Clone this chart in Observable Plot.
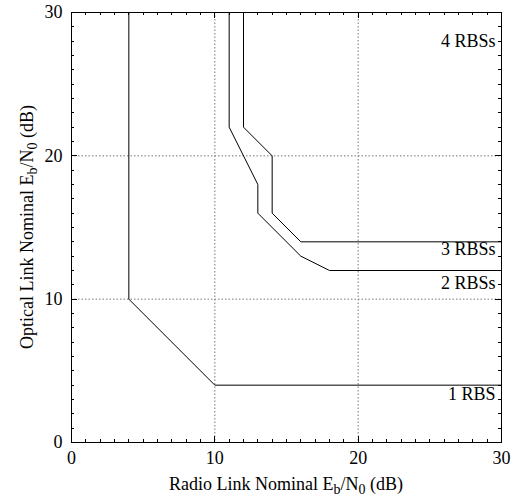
<!DOCTYPE html>
<html><head><meta charset="utf-8">
<script src="https://cdn.jsdelivr.net/npm/d3@7"></script>
<script src="https://cdn.jsdelivr.net/npm/@observablehq/plot@0.6"></script>
<style>body{margin:0;background:#fff} svg{display:block} svg text{font-family:"Liberation Serif","DejaVu Serif",serif !important}</style>
</head><body><div id="chart"></div>
<script>
// Curves (Radio Eb/N0 dB vs Optical Eb/N0 dB)
const rbs1X = [4, 4, 10, 30];
const rbs1Y = [30, 10, 4, 4];
const rbs2X = [11, 11, 13, 13, 16, 18, 30];
const rbs2Y = [30, 22, 18, 16, 13, 12, 12];
const rbs3X = [12, 12, 14, 14, 16, 30];
const rbs3Y = [30, 22, 20, 16, 14, 14];
const curveNames = ["1 RBS", "2 RBSs", "3 RBSs"];
// Region labels
const labelNames = ["4 RBSs", "3 RBSs", "2 RBSs", "1 RBS"];
const labelY = [28, 13.5, 11.1, 3.4];
// Ticks
const majorTicks = [0, 10, 20, 30];
const minorTicks = [1,2,3,4,5,6,7,8,9,11,12,13,14,15,16,17,18,19,21,22,23,24,25,26,27,28,29];
const gridTicks = [10, 20];

const curves = [
  {name: curveNames[0], xs: rbs1X, ys: rbs1Y},
  {name: curveNames[1], xs: rbs2X, ys: rbs2Y},
  {name: curveNames[2], xs: rbs3X, ys: rbs3Y}
].flatMap(c => c.xs.map((x, i) => ({name: c.name, x, y: c.ys[i]})));
const labels = labelNames.map((t, i) => ({t, y: labelY[i]}));

const font = '"Liberation Serif", "DejaVu Serif", serif';
const W = 512, H = 498;
const mL = 71, mR = 11, mT = 12, mB = 56;
const fw = W - mL - mR, fh = H - mT - mB;

const chart = Plot.plot({
  width: W, height: H,
  marginLeft: mL, marginRight: mR, marginTop: mT, marginBottom: mB,
  style: {fontFamily: font, fontSize: "18px", color: "#000", background: "#fff"},
  x: {domain: [0, 30], axis: null},
  y: {domain: [0, 30], axis: null},
  marks: [
    Plot.gridX(gridTicks, {stroke: "#777", strokeOpacity: 1, strokeDasharray: "1.5,2"}),
    Plot.gridY(gridTicks, {stroke: "#777", strokeOpacity: 1, strokeDasharray: "1.5,2"}),
    Plot.axisX(majorTicks, {anchor: "bottom", tickSize: 0, tickPadding: 9, label: null, fontSize: 18}),
    Plot.axisY(majorTicks, {anchor: "left", tickSize: 0, tickPadding: 9, label: null, fontSize: 18}),
    Plot.frame({stroke: "#000", strokeWidth: 1}),
    Plot.line(curves, {x: "x", y: "y", z: "name", stroke: "#000", strokeWidth: 1}),
    Plot.text(labels, {text: "t", y: "y", frameAnchor: "right", dx: -6, textAnchor: "end", fontSize: 18, fill: "#000"})
  ]
});
document.getElementById("chart").appendChild(chart);

// inward ticks on all four sides, positioned through Plot's own scales
const svg = d3.select(chart);
const sx = chart.scale("x"), sy = chart.scale("y");
const x0 = sx.apply(0), x1 = sx.apply(30), y0 = sy.apply(0), y1 = sy.apply(30);
const tg = svg.append("g").attr("stroke", "#000").attr("stroke-width", 1).attr("fill", "none");
function drawTicks(values, len) {
  for (const v of values) {
    const px = Math.round(sx.apply(v)) + 0.5, py = Math.round(sy.apply(v)) + 0.5;
    tg.append("line").attr("x1", px).attr("x2", px).attr("y1", y0).attr("y2", y0 - len);
    tg.append("line").attr("x1", px).attr("x2", px).attr("y1", y1).attr("y2", y1 + len);
    tg.append("line").attr("y1", py).attr("y2", py).attr("x1", x0).attr("x2", x0 + len);
    tg.append("line").attr("y1", py).attr("y2", py).attr("x1", x1).attr("x2", x1 - len);
  }
}
drawTicks(minorTicks, 3);
drawTicks(majorTicks, 6);

// Axis titles with subscripts
const cx = mL + fw / 2;
const cy = mT + fh / 2;
function title(g, parts) {
  const t = g.append("text").attr("text-anchor", "middle")
    .attr("font-family", font).attr("font-size", 18).attr("fill", "#000");
  for (const [s, sub] of parts) {
    const ts = t.append("tspan").text(s);
    if (sub) ts.attr("baseline-shift", "-25%").attr("font-size", 14);
  }
  return t;
}
title(svg.append("g").attr("transform", `translate(${cx},${H - 8})`),
  [["Radio Link Nominal E"], ["b", true], ["/N"], ["0", true], [" (dB)"]]);
title(svg.append("g").attr("transform", `translate(33,${cy}) rotate(-90)`),
  [["Optical Link Nominal E"], ["b", true], ["/N"], ["0", true], [" (dB)"]]);
</script></body></html>
